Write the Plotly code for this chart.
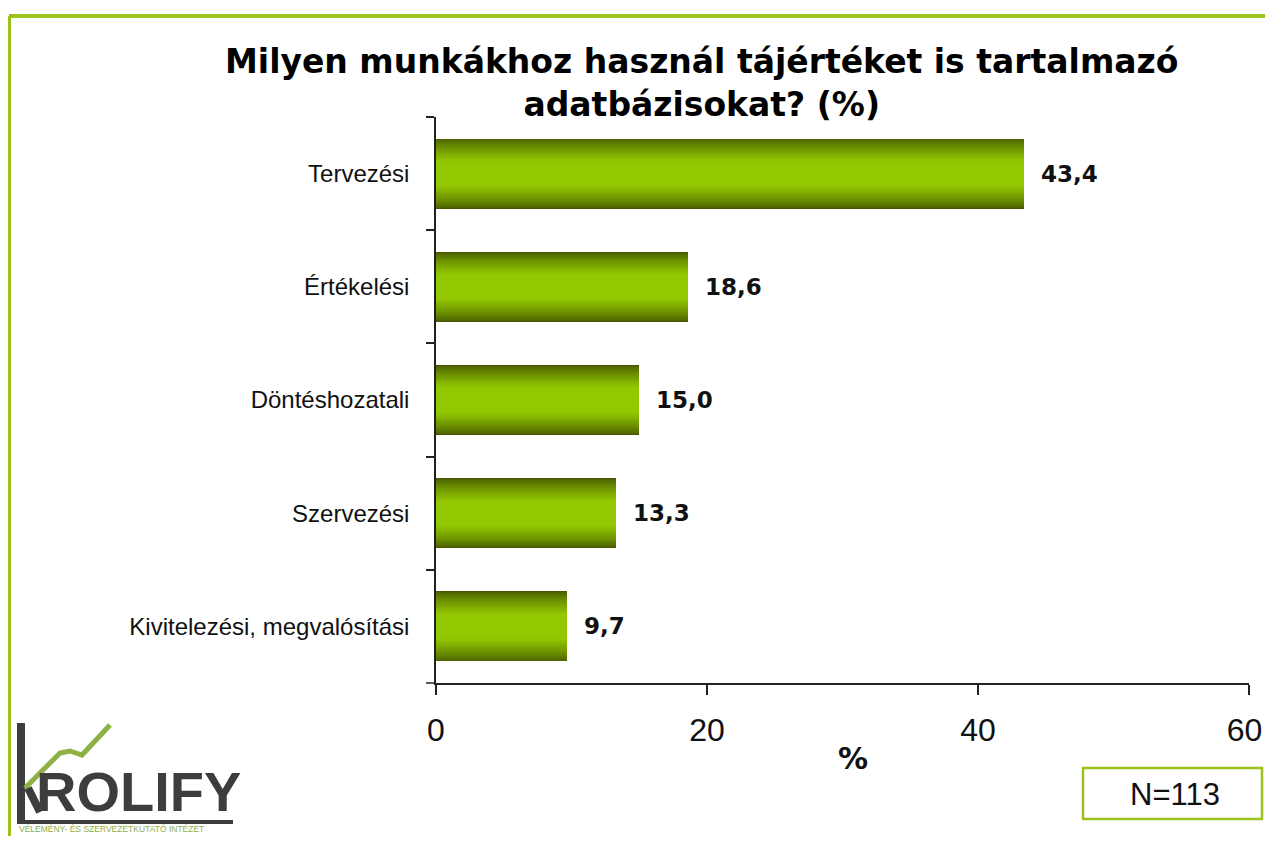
import plotly.graph_objects as go

# ---- data ----
categories = ["Tervezési", "Értékelési", "Döntéshozatali", "Szervezési", "Kivitelezési, megvalósítási"]
values = [43.4, 18.6, 15.0, 13.3, 9.7]
x_ticks = [0, 20, 40, 60]
x_tick_labels = ["0", "20", "40", "60\u00a0"]
title_text = "Milyen munkákhoz használ tájértéket is tartalmazó<br>adatbázisokat? (%)"
axis_title = "%"
n_text = "N=113"

# ---- geometry (page pixels; the page body has an 8px margin) ----
OFF = 8
W, H = 1273 - 2 * OFF, 844 - 2 * OFF
L, R, T, B = 436, 1249, 117, 683


def px(x):
    return (x - L) / (R - L)


def py(y):
    return (B - y) / (B - T)


def lerp(c1, c2, t):
    return "rgb(%d,%d,%d)" % tuple(round(a + (b - a) * t) for a, b in zip(c1, c2))


dark = (72, 90, 0)
bright = (146, 200, 0)

fig = go.Figure()
n_layers = 36
bar_w = 0.62
for i in range(n_layers):
    t = i / (n_layers - 1)
    w = bar_w * (1 - 0.97 * t)
    col = lerp(dark, bright, min(1.0, (t * 1.5) ** 0.75))
    fig.add_trace(go.Bar(
        x=values, y=categories, orientation="h", width=w,
        marker=dict(color=col, line=dict(width=0)),
        hoverinfo="skip" if i else "x+y", showlegend=False,
    ))

for c, v in zip(categories, values):
    fig.add_annotation(
        x=v, y=c, xref="x", yref="y", text=f"{v:.1f}".replace(".", ","),
        showarrow=False, xanchor="left", yanchor="middle", xshift=15,
        font=dict(family="DejaVu Sans", size=23, color="#111111", weight="bold"),
    )

fig.update_layout(
    width=W, height=H,
    margin=dict(l=L - OFF, r=W + OFF - R, t=T - OFF, b=H + OFF - B, pad=0, autoexpand=False),
    paper_bgcolor="white", plot_bgcolor="white",
    barmode="overlay", bargap=0,
    xaxis=dict(
        range=[0, 60], tickvals=x_ticks, ticktext=x_tick_labels,
        ticks="outside", ticklen=10, tickwidth=1.5,
        tickcolor="#222", showline=True, linecolor="#222", linewidth=1.5,
        showgrid=False, zeroline=False, automargin=False,
        tickfont=dict(family="Liberation Sans", size=32, color="#111"),
        ticklabelstandoff=8, ticklabeloverflow="allow",
    ),
    yaxis=dict(
        categoryorder="array", categoryarray=categories, autorange="reversed",
        ticks="outside", tickson="boundaries", ticklen=8, tickwidth=1.5, tickcolor="#222",
        showline=True, linecolor="#222", linewidth=1.5, showgrid=False, automargin=False,
        tickfont=dict(family="Liberation Sans", size=24, color="#111"),
        ticklabelstandoff=20,
    ),
)

# extend x axis line left like reference
fig.add_shape(type="line", xref="paper", yref="paper", x0=px(426), x1=px(436), y0=0, y1=0,
              line=dict(color="#222", width=1.5))

# title
fig.add_annotation(
    xref="paper", yref="paper", x=px(701), y=py(83), text=title_text, showarrow=False,
    xanchor="center", yanchor="middle", align="center",
    font=dict(family="DejaVu Sans", size=33, color="#000", weight="bold"),
)
# axis title
fig.add_annotation(
    xref="paper", yref="paper", x=px(853), y=py(758), text=axis_title, showarrow=False,
    xanchor="center", yanchor="middle",
    font=dict(family="DejaVu Sans", size=30, color="#111", weight="bold"),
)

green = "#9cc21c"
# frame (kept inside the figure)
fig.add_shape(type="line", xref="paper", yref="paper", x0=px(9), x1=px(1265), y0=py(16), y1=py(16),
              line=dict(color=green, width=4))
fig.add_shape(type="line", xref="paper", yref="paper", x0=px(9), x1=px(9), y0=py(16), y1=py(836),
              line=dict(color=green, width=4))

# N box
fig.add_shape(type="rect", xref="paper", yref="paper", x0=px(1083), x1=px(1262), y0=py(768), y1=py(819),
              line=dict(color=green, width=2.5), fillcolor="white")
fig.add_annotation(xref="paper", yref="paper", x=px(1175), y=py(794), text=n_text, showarrow=False,
                   xanchor="center", yanchor="middle",
                   font=dict(family="Liberation Sans", size=31, color="#111"))

# logo
gray = "#3d3d3d"
fig.add_shape(type="line", xref="paper", yref="paper", x0=px(21), x1=px(21), y0=py(723), y1=py(824),
              line=dict(color=gray, width=8))
fig.add_shape(type="line", xref="paper", yref="paper", x0=px(17), x1=px(233), y0=py(822), y1=py(822),
              line=dict(color=gray, width=4))
logo_path = "M %f %f L %f %f L %f %f L %f %f L %f %f" % (
    px(25), py(788), px(60), py(753), px(70), py(751), px(82), py(755), px(110), py(725))
fig.add_shape(type="path", xref="paper", yref="paper", path=logo_path,
              line=dict(color="#8fb044", width=5))
fig.add_shape(type="line", xref="paper", yref="paper", x0=px(28), x1=px(40), y0=py(788), y1=py(812),
              line=dict(color=gray, width=8))
fig.add_annotation(xref="paper", yref="paper", x=px(34), y=py(791), text="ROLIFY", showarrow=False,
                   xanchor="left", yanchor="middle",
                   font=dict(family="Liberation Sans", size=56, color=gray, weight="bold"))
fig.add_annotation(xref="paper", yref="paper", x=px(17), y=py(829), text="VÉLEMÉNY- ÉS SZERVEZETKUTATÓ INTÉZET",
                   showarrow=False, xanchor="left", yanchor="middle",
                   font=dict(family="Liberation Sans", size=8.5, color="#8fb044"))

fig.write_html("out.html")
